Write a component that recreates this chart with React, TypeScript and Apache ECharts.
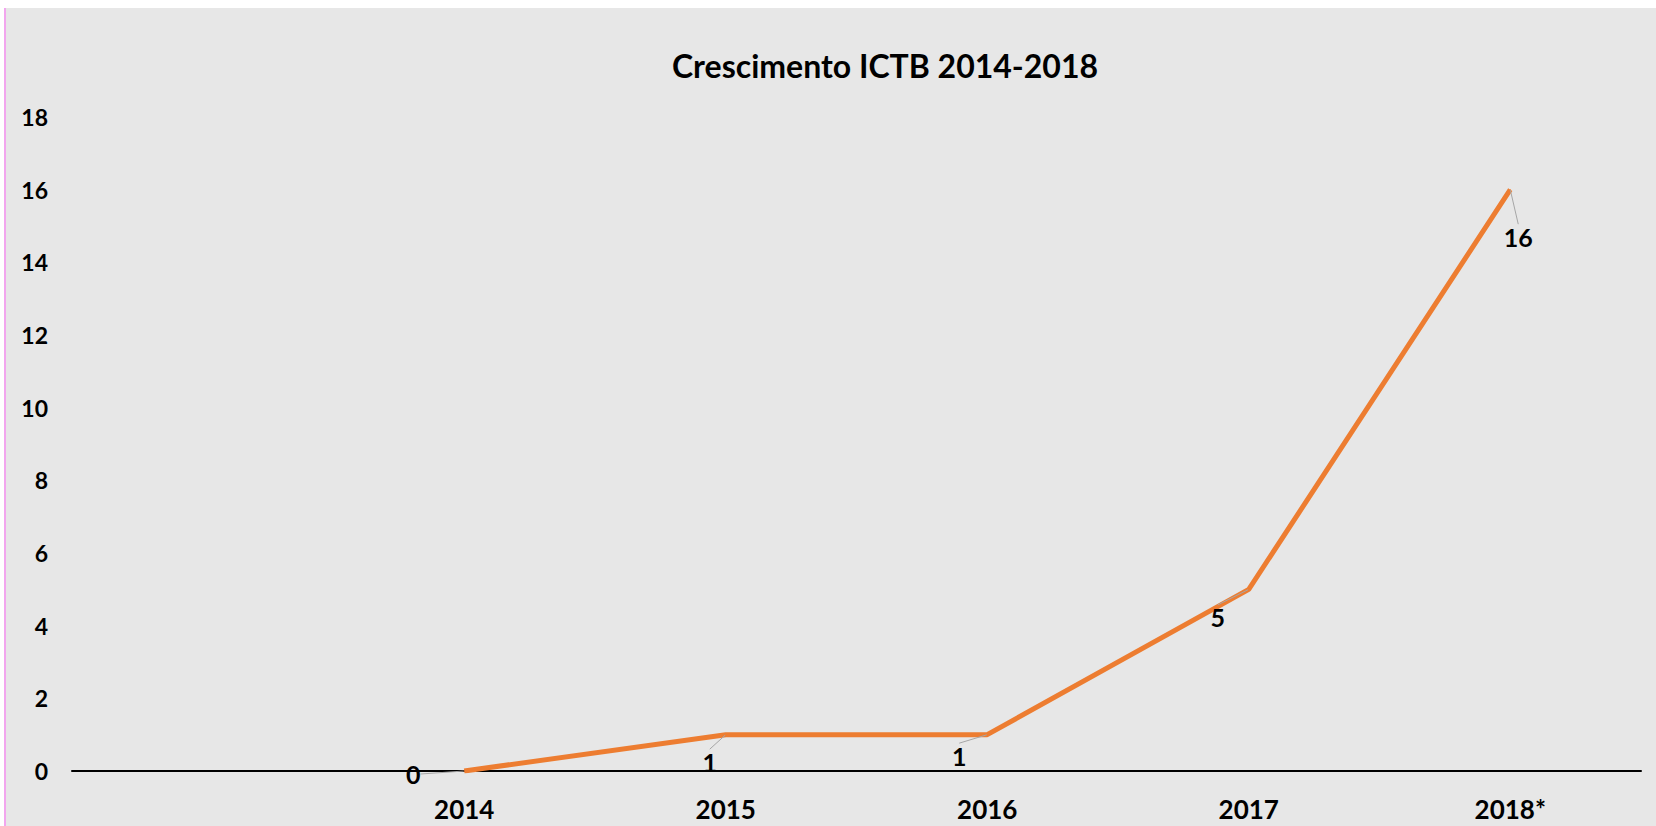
import React, { useEffect, useRef } from "react";
import * as echarts from "echarts";

const categories = ["", "2014", "2015", "2016", "2017", "2018*"];
const values = [null, 0, 1, 1, 5, 16];
const yTicks = { min: 0, max: 18, interval: 2 };
const titleText = "Crescimento ICTB 2014-2018";

// label offsets (style), relative to each point
const labelOffsets: Record<number, [number, number]> = {
  1: [-51, 3],
  2: [-16, 27],
  3: [-28, 21],
  4: [-31, 28],
  5: [8, 47],
};

const FONT = "Lato, 'Open Sans', sans-serif";

export default function App() {
  const ref = useRef<HTMLDivElement>(null);
  useEffect(() => {
    if (!ref.current) return;
    const chart = echarts.init(ref.current, undefined, { renderer: "svg" });
    chart.setOption({
      animation: false,
      backgroundColor: "#ffffff",
      graphic: [
        {
          type: "rect",
          z: -10,
          silent: true,
          shape: { x: 6, y: 8, width: 1650, height: 818 },
          style: { fill: "#e7e7e7" },
        },
        {
          type: "rect",
          z: -10,
          silent: true,
          shape: { x: 4, y: 8, width: 2, height: 818 },
          style: { fill: "#f2a6ee" },
        },
        {
          type: "text",
          x: 885,
          y: 65,
          style: {
            text: titleText,
            fill: "#000",
            font: `bold 32px ${FONT}`,
            align: "center",
            verticalAlign: "middle",
          },
        },
      ],
      grid: { left: 72, right: 15, top: 117, bottom: 55 },
      xAxis: {
        type: "category",
        data: categories,
        boundaryGap: true,
        axisLine: { show: true, lineStyle: { color: "#000", width: 2 } },
        axisTick: { show: false },
        axisLabel: {
          color: "#000",
          fontWeight: "bold",
          fontSize: 26,
          fontFamily: FONT,
          margin: 25,
          interval: 0,
        },
        splitLine: { show: false },
      },
      yAxis: {
        type: "value",
        min: yTicks.min,
        max: yTicks.max,
        interval: yTicks.interval,
        axisLine: { show: false },
        axisTick: { show: false },
        splitLine: { show: false },
        axisLabel: {
          color: "#000",
          fontWeight: "bold",
          fontSize: 23,
          fontFamily: FONT,
          margin: 24,
        },
      },
      series: [
        {
          type: "line",
          data: values,
          symbol: "circle",
          symbolSize: 1,
          showSymbol: true,
          itemStyle: { color: "#ED7D31" },
          lineStyle: { color: "#ED7D31", width: 5 },
          label: {
            show: true,
            position: "inside",
            color: "#000",
            fontSize: 25,
            fontWeight: "bold",
            fontFamily: FONT,
          },
          labelLine: {
            show: true,
            lineStyle: { color: "#a6a6a6", width: 1 },
          },
          labelLayout: (params: any) => {
            const o = labelOffsets[params.dataIndex] || [0, 0];
            return { dx: o[0], dy: o[1] };
          },
        },
      ],
    });
    return () => chart.dispose();
  }, []);
  return (
    <div
      ref={ref}
      style={{ position: "fixed", left: 0, top: 0, width: 1656, height: 826 }}
    />
  );
}
